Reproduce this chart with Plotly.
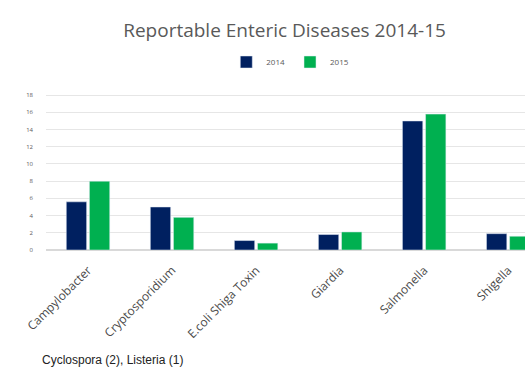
import plotly.graph_objects as go

categories = ["Campylobacter", "Cryptosporidium", "E.coli Shiga Toxin", "Giardia", "Salmonella", "Shigella"]
vals_2014 = [5.6, 5.0, 1.1, 1.8, 15.0, 1.9]
vals_2015 = [8.0, 3.8, 0.8, 2.1, 15.8, 1.6]
series_names = ["2014", "2015"]
y_ticks = [0, 2, 4, 6, 8, 10, 12, 14, 16, 18]

fig = go.Figure()
fig.add_trace(go.Bar(x=categories, y=vals_2014, name=series_names[0], marker_color="#002060"))
fig.add_trace(go.Bar(x=categories, y=vals_2015, name=series_names[1], marker_color="#00B050"))

fig.update_layout(
    width=525, height=379,
    margin=dict(l=46, r=0, t=90, b=129),
    paper_bgcolor="white", plot_bgcolor="white",
    barmode="group", bargap=0.45, bargroupgap=0.12,
    title=dict(text="Reportable Enteric Diseases 2014-15", x=0.542, xanchor="center",
               y=0.92, yanchor="middle",
               font=dict(family="Open Sans", size=19, color="#595959")),
    legend=dict(orientation="h", x=0.51, xanchor="center", y=1.175, yanchor="middle",
                font=dict(family="Open Sans", size=8, color="#595959"),
                itemwidth=30, traceorder="normal"),
    showlegend=True,
    font=dict(family="Open Sans", color="#595959"),
)
fig.update_xaxes(range=[-0.5, 5.2], tickangle=-45, showgrid=False, showline=False,
                 ticks="", ticklabelstandoff=10,
                 tickfont=dict(family="Open Sans", size=12, color="#4a4a4a"))
fig.update_yaxes(range=[0, 18.6], tickvals=y_ticks, showgrid=True, gridcolor="#e6e6e6",
                 zeroline=True, zerolinecolor="#d9d9d9", showline=False, ticks="",
                 ticklabelstandoff=12,
                 tickfont=dict(family="Open Sans", size=6, color="#595959"))

fig.add_annotation(text="Cyclospora (2), Listeria (1)", xref="paper", yref="paper",
                   x=-6/479, xanchor="left", y=-110/160, yanchor="middle",
                   showarrow=False,
                   font=dict(family="Liberation Sans", size=12, color="#222222"))

fig.write_html("out.html")
